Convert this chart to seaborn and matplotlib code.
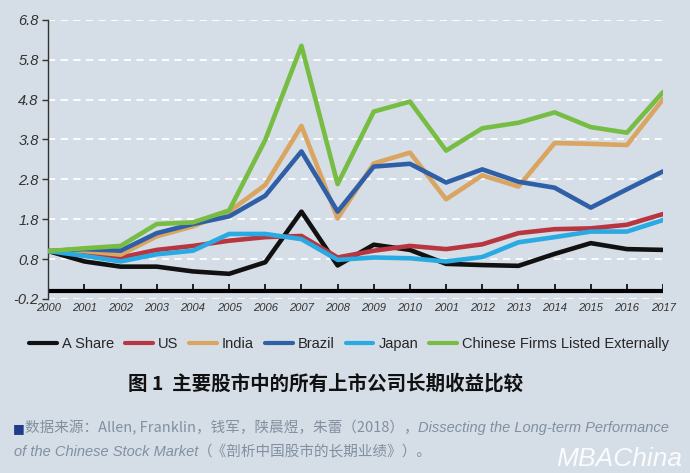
import matplotlib
matplotlib.use("Agg")
import matplotlib.pyplot as plt
import seaborn as sns
import pandas as pd

years = list(range(2000, 2018))
year_labels = ["2000", "2001", "2002", "2003", "2004", "2005", "2006", "2007", "2008",
               "2009", "2010", "2001", "2012", "2013", "2014", "2015", "2016", "2017"]

a_share = [1.0, 0.74, 0.61, 0.61, 0.49, 0.43, 0.72, 1.99, 0.64, 1.16, 1.03, 0.68, 0.65, 0.63, 0.93, 1.20, 1.05, 1.03]
us = [1.0, 0.96, 0.84, 1.03, 1.13, 1.26, 1.35, 1.38, 0.84, 1.01, 1.13, 1.05, 1.17, 1.45, 1.55, 1.57, 1.66, 1.93]
india = [1.0, 1.0, 0.91, 1.37, 1.62, 1.99, 2.66, 4.14, 1.82, 3.20, 3.47, 2.30, 2.90, 2.62, 3.71, 3.69, 3.66, 4.81]
brazil = [1.0, 1.05, 1.01, 1.45, 1.68, 1.87, 2.39, 3.50, 1.99, 3.12, 3.19, 2.72, 3.05, 2.74, 2.59, 2.09, 2.55, 3.00]
japan = [1.0, 0.88, 0.74, 0.92, 1.01, 1.43, 1.43, 1.30, 0.78, 0.84, 0.82, 0.74, 0.85, 1.22, 1.35, 1.49, 1.49, 1.78]
chinese_ext = [1.0, 1.07, 1.13, 1.68, 1.72, 2.02, 3.79, 6.15, 2.68, 4.50, 4.75, 3.52, 4.08, 4.22, 4.48, 4.11, 3.97, 4.99]

series_names = ["A Share", "US", "India", "Brazil", "Japan", "Chinese Firms Listed Externally"]
series_values = [a_share, us, india, brazil, japan, chinese_ext]
colors = ["#111111", "#b8363f", "#d9a560", "#2f5fa6", "#2aaae2", "#77bd43"]
y_ticks = [-0.2, 0.8, 1.8, 2.8, 3.8, 4.8, 5.8, 6.8]

bg = "#d5dde6"
grey = "#8190a0"
cjk = ["Noto Sans CJK SC", "DejaVu Sans"]
sns.set_theme(style="white")
plt.rcParams["font.family"] = ["Liberation Sans", "Noto Sans CJK SC", "DejaVu Sans"]

rows = []
for name, vals in zip(series_names, series_values):
    for yr, v in zip(years, vals):
        rows.append({"year": yr, "value": v, "series": name})
df = pd.DataFrame(rows)

fig = plt.figure(figsize=(6.9, 4.73), dpi=100, facecolor=bg)
ax = fig.add_axes([0.07, 0.368, 0.891, 0.59])
ax.set_facecolor(bg)

for y in y_ticks:
    ax.axhline(y, color="white", lw=1.3, ls=(0, (4, 3)), zorder=1)

ax.axhline(0, color="black", lw=3, zorder=2)
ax.vlines(years, 0, 0.18, color="black", lw=1.2, zorder=2)

sns.lineplot(data=df, x="year", y="value", hue="series", hue_order=series_names,
             palette=colors, lw=3.3, ax=ax, legend=False, zorder=3)

ax.set_xlim(2000, 2017)
ax.set_ylim(-0.2, 6.8)
ax.set_yticks(y_ticks)
ax.set_yticklabels([f"{t:.1f}" for t in y_ticks], fontsize=10.5, style="italic", color="#333333")
ax.set_xticks(years)
ax.set_xticklabels(year_labels, fontsize=8, style="italic", color="#333333")
ax.tick_params(axis="y", length=4, width=1, color="#333333", pad=3, left=True)
ax.tick_params(axis="x", length=0, pad=3)
for s in ["top", "right", "bottom"]:
    ax.spines[s].set_visible(False)
ax.spines["left"].set_color("#333333")
ax.spines["left"].set_linewidth(1)
ax.set_xlabel("")
ax.set_ylabel("")

handles = [plt.Line2D([], [], color=c, lw=3) for c in colors]
fig.legend(handles, series_names, loc="center", bbox_to_anchor=(0.506, 0.273), ncol=6,
           frameon=False, fontsize=10.5, handlelength=1.9, handletextpad=0.35, columnspacing=0.75)

fig.text(0.472, 0.19, "图 1  主要股市中的所有上市公司长期收益比较", ha="center", va="center",
         fontsize=14, fontweight="bold", color="#111111", family=cjk)

renderer = fig.canvas.get_renderer()
W = fig.get_figwidth() * fig.dpi


def place_run(parts, x0, y, size):
    # parts: (text, italic, family)
    x = x0
    for txt, italic, fam in parts:
        t = fig.text(x, y, txt, fontsize=size, style="italic" if italic else "normal",
                     color=grey, va="center", family=fam)
        x += t.get_window_extent(renderer).width / W
    return x


line1 = [("数据来源：Allen, Franklin，钱军，陕晨煜，朱蕾（2018），", False, cjk),
         ("Dissecting the Long-term Performance", True, ["Liberation Sans", "DejaVu Sans"])]
line2 = [("of the Chinese Stock Market", True, ["Liberation Sans", "DejaVu Sans"]),
         ("（《剖析中国股市的长期业绩》）。", False, cjk)]

# fit the first line into the reference's width
probe = [fig.text(0, 0, t, fontsize=10, style="italic" if i else "normal", family=f) for t, i, f in line1]
wsum = sum(p.get_window_extent(renderer).width for p in probe) / W
for p in probe:
    p.remove()
size = 10 * (0.93 / wsum)

fig.text(0.018, 0.095, "■", fontsize=9, color="#1f3d8a", va="center", family=["DejaVu Sans"])
place_run(line1, 0.036, 0.095, size)
place_run(line2, 0.02, 0.044, size)

fig.text(0.988, 0.03, "MBAChina", fontsize=19, style="italic", color="white", ha="right",
         va="center", alpha=0.9)

fig.savefig("out.png", dpi=100, facecolor=bg)
